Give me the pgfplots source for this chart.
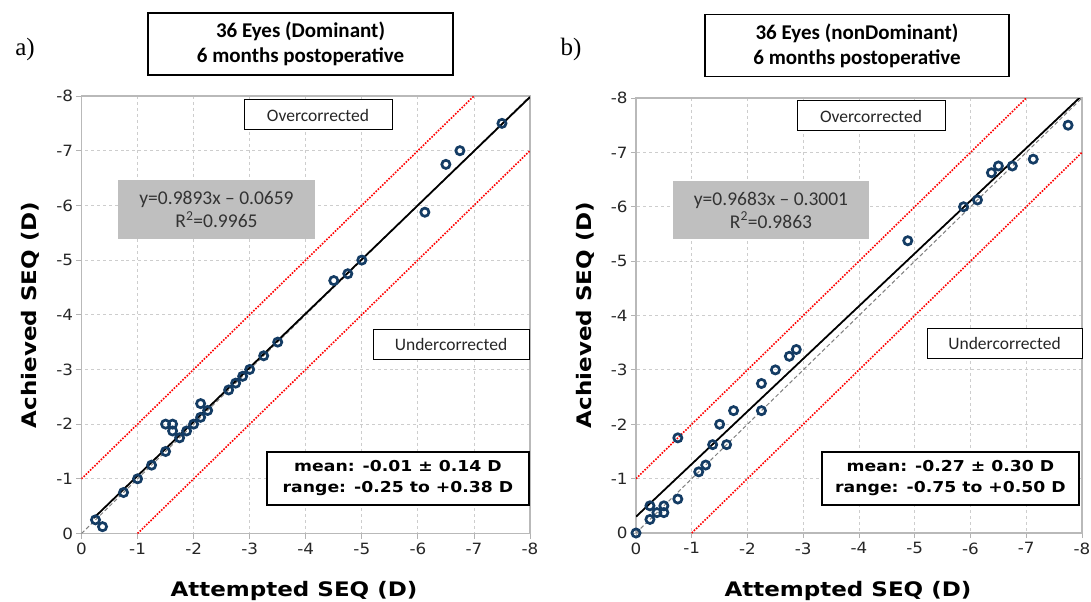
\documentclass[border=0pt]{standalone}
\usepackage{pgfplots}
\pgfplotsset{compat=1.18}
\usepackage{fontspec}
\setmainfont{DejaVu Sans}
\newfontfamily\calib{Carlito}
\newfontfamily\serf{Liberation Serif}
\newfontfamily\verdw[FakeStretch=1.15]{DejaVu Sans}
\newfontfamily\verdt[FakeStretch=1.08]{DejaVu Sans}
\definecolor{navy}{RGB}{20,60,100}
\definecolor{gboxfill}{RGB}{191,191,191}
\definecolor{gridc}{RGB}{205,205,205}

\pgfplotsset{
 myax/.style={
  scale only axis,
  x dir=reverse, y dir=reverse,
  xmin=-8, xmax=0, ymin=-8, ymax=0,
  xtick={-8,-7,-6,-5,-4,-3,-2,-1,0},
  ytick={-8,-7,-6,-5,-4,-3,-2,-1,0},
  xticklabels={-8,-7,-6,-5,-4,-3,-2,-1,0},
  yticklabels={-8,-7,-6,-5,-4,-3,-2,-1,0},
  /pgf/number format/assume math mode=true,
  grid=major,
  grid style={dashed, draw=gridc, line width=0.8bp},
  axis line style={draw=gray!55, line width=1.8bp},
  tick style={draw=gray!60, line width=0.8bp},
  tick align=outside, tick pos=left, major tick length=5bp,
  tick label style={font=\verdt\fontsize{15.5bp}{17bp}\selectfont, text=black!85},
  xticklabel style={yshift=-1bp},
  clip=true,
 },
 dat/.style={only marks, mark=o, mark size=4.1bp, mark options={draw=navy, line width=2.7bp}},
 reg/.style={black, line width=1.8bp, no marks},
 idl/.style={gray, dash pattern=on 4bp off 2.5bp, line width=1bp, no marks},
 lim/.style={red, dash pattern=on 1.6bp off 1.4bp, line width=1.6bp, no marks},
}

\begin{document}
\begin{tikzpicture}[x=1bp,y=1bp]
\useasboundingbox (0,0) rectangle (1091,-602);

% ---------------- Panel a ----------------
\begin{axis}[myax, width=448.5bp, height=437.5bp, at={(81.5bp,-533.5bp)}, anchor=south west]
\addplot[lim] coordinates {(0,-1) (-7,-8)};
\addplot[lim] coordinates {(-1,0) (-8,-7)};
\addplot[idl] coordinates {(0,0) (-8,-8)};
\addplot[reg] coordinates {(-0.22,-0.2836) (-8,-7.9803)};
\addplot[dat] coordinates {
(-0.25,-0.25) (-0.375,-0.125) (-0.75,-0.75) (-1,-1) (-1.25,-1.25)
(-1.5,-1.5) (-1.5,-2) (-1.625,-2) (-1.625,-1.875) (-1.75,-1.75)
(-1.875,-1.875) (-2,-2) (-2.125,-2.125) (-2.125,-2.375) (-2.25,-2.25)
(-2.625,-2.625) (-2.75,-2.75) (-2.875,-2.875) (-3,-3) (-3.25,-3.25)
(-3.5,-3.5) (-4.5,-4.625) (-4.75,-4.75) (-5,-5) (-6.125,-5.875)
(-6.5,-6.75) (-6.75,-7) (-7.5,-7.5)
};
\end{axis}

% ---------------- Panel b ----------------
\begin{axis}[myax, width=446bp, height=435bp, at={(636bp,-533bp)}, anchor=south west]
\addplot[lim] coordinates {(0,-1) (-7,-8)};
\addplot[lim] coordinates {(-1,0) (-8,-7)};
\addplot[idl] coordinates {(0,0) (-8,-8)};
\addplot[reg] coordinates {(0,-0.3001) (-8,-8.0465)};
\addplot[dat] coordinates {
(0,0) (-0.25,-0.5) (-0.25,-0.25) (-0.375,-0.375) (-0.5,-0.5)
(-0.5,-0.375) (-0.75,-1.75) (-0.75,-0.625) (-1.125,-1.125) (-1.25,-1.25)
(-1.375,-1.625) (-1.5,-2) (-1.625,-1.625) (-1.75,-2.25) (-2.25,-2.25)
(-2.25,-2.75) (-2.5,-3) (-2.75,-3.25) (-2.875,-3.375) (-4.875,-5.375)
(-5.875,-6) (-6.125,-6.125) (-6.375,-6.625) (-6.5,-6.75) (-6.75,-6.75)
(-7.125,-6.875) (-7.75,-7.5)
};
\end{axis}

% ---------------- annotations ----------------
\tikzset{
 ttl/.style={draw=black, line width=1.5bp, fill=white, inner sep=0pt, align=center,
   font=\calib\bfseries\fontsize{21bp}{25bp}\selectfont},
 wb/.style={draw=black, line width=1bp, fill=white, inner sep=0pt, align=center,
   font=\calib\fontsize{17.5bp}{20bp}\selectfont, text=black!85},
 gb/.style={fill=gboxfill, inner sep=0pt, align=center,
   font=\calib\fontsize{19.5bp}{23bp}\selectfont, text=black!80},
 mb/.style={draw=black, line width=1.2bp, fill=white, inner sep=0pt, align=center,
   font=\verdw\bfseries\fontsize{15bp}{21bp}\selectfont},
 axl/.style={font=\verdw\bfseries\fontsize{20bp}{24bp}\selectfont},
}

% panel a
\node[font=\serf\fontsize{25bp}{27bp}\selectfont] at (25,-49) {a)};
\node[ttl, minimum width=305bp, minimum height=62bp] at (300.5,-44) {36 Eyes (Dominant)\\6 months postoperative};
\node[wb, minimum width=148bp, minimum height=30bp] at (318,-115) {Overcorrected};
\node[gb, minimum width=197bp, minimum height=59bp] at (216.5,-209.5) {y=0.9893x – 0.0659\\R\textsuperscript{2}=0.9965};
\node[wb, minimum width=156bp, minimum height=30bp] at (451,-344) {Undercorrected};
\node[mb, minimum width=262bp, minimum height=53bp] at (398,-478.5) {mean: -0.01 ± 0.14 D\\range: -0.25 to +0.38 D};
\node[axl, anchor=base] at (294,-596) {Attempted SEQ (D)};
\node[axl, rotate=90] at (30,-315) {Achieved SEQ (D)};

% panel b
\node[font=\serf\fontsize{25bp}{27bp}\selectfont] at (571,-49) {b)};
\node[ttl, minimum width=304bp, minimum height=62bp] at (857,-45.5) {36 Eyes (nonDominant)\\6 months postoperative};
\node[wb, minimum width=148bp, minimum height=30bp] at (871,-116) {Overcorrected};
\node[gb, minimum width=196bp, minimum height=58bp] at (771,-210) {y=0.9683x – 0.3001\\R\textsuperscript{2}=0.9863};
\node[wb, minimum width=155bp, minimum height=30bp] at (1004.5,-343) {Undercorrected};
\node[mb, minimum width=257bp, minimum height=53bp] at (950.5,-478.5) {mean: -0.27 ± 0.30 D\\range: -0.75 to +0.50 D};
\node[axl, anchor=base] at (848,-596) {Attempted SEQ (D)};
\node[axl, rotate=90] at (585,-315) {Achieved SEQ (D)};
\end{tikzpicture}
\end{document}
